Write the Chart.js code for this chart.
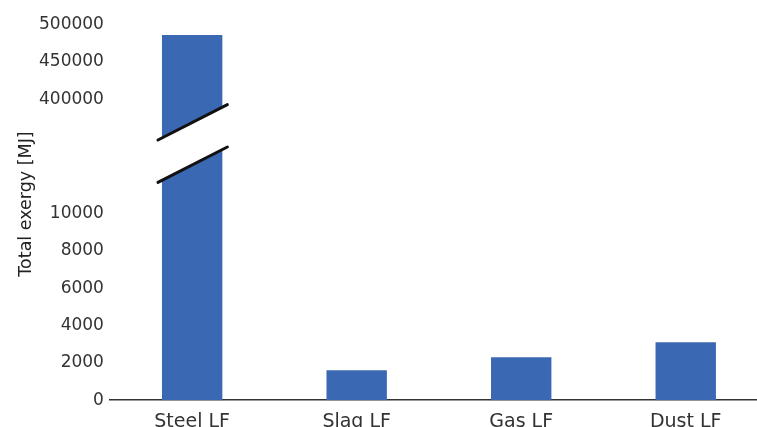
<!DOCTYPE html>
<html>
<head>
<meta charset="utf-8">
<script src="https://cdn.jsdelivr.net/npm/chart.js@4.4.1/dist/chart.umd.min.js"></script>
<style>
  html, body { margin: 0; padding: 0; background: #fff; overflow: hidden; }
  #wrap { position: relative; width: 770px; height: 440px; }
</style>
</head>
<body>
<div id="wrap"><canvas id="chart"></canvas></div>
<script>
// data
const categories = ['Steel LF', 'Slag LF', 'Gas LF', 'Dust LF'];
const exergyMJ = [486000, 1600, 2300, 3100];
const yTicks = [0, 2000, 4000, 6000, 8000, 10000, 400000, 450000, 500000];

// broken axis: value ranges and the share of the axis height each one gets
const SEGMENTS = [
  { from: 0, to: 10000, d0: 0, d1: 0.4967 },
  { from: 10000, to: 400000, d0: 0.4967, d1: 0.8003 },
  { from: 400000, to: 500000, d0: 0.8003, d1: 1 },
];

function toDecimal(v) {
  for (const s of SEGMENTS) {
    if (v <= s.to) return s.d0 + (v - s.from) / (s.to - s.from) * (s.d1 - s.d0);
  }
  return 1;
}
function fromDecimal(d) {
  for (const s of SEGMENTS) {
    if (d <= s.d1) return s.from + (d - s.d0) / (s.d1 - s.d0) * (s.to - s.from);
  }
  return SEGMENTS[SEGMENTS.length - 1].to;
}

const Linear = Chart.LinearScale || Chart.registry.getScale('linear');
class BrokenLinear extends Linear {
  getPixelForValue(value) {
    if (value === null || value === undefined || isNaN(value)) return NaN;
    return this.getPixelForDecimal(toDecimal(value));
  }
  getValueForPixel(pixel) {
    return fromDecimal(this.getDecimalForPixel(pixel));
  }
}
BrokenLinear.id = 'brokenLinear';
Chart.register(BrokenLinear);

// white gap + two slanted strokes across the tall bar
const axisBreak = {
  id: 'axisBreak',
  afterDatasetsDraw(chart) {
    const bar = chart.getDatasetMeta(0).data[0];
    const ys = chart.scales.y;
    const ctx = chart.ctx;
    const x0 = bar.x - bar.width / 2 - 4;
    const x1 = bar.x + bar.width / 2 + 5;
    const half = (x1 - x0) * 0.255;
    const yUp = ys.getPixelForDecimal(0.7397);
    const yLo = ys.getPixelForDecimal(0.6268);
    ctx.save();
    ctx.fillStyle = '#fff';
    ctx.beginPath();
    ctx.moveTo(x0, yUp + half);
    ctx.lineTo(x1, yUp - half);
    ctx.lineTo(x1, yLo - half);
    ctx.lineTo(x0, yLo + half);
    ctx.closePath();
    ctx.fill();
    ctx.strokeStyle = '#111';
    ctx.lineWidth = 3;
    ctx.lineCap = 'round';
    [yUp, yLo].forEach(yc => {
      ctx.beginPath();
      ctx.moveTo(x0, yc + half);
      ctx.lineTo(x1, yc - half);
      ctx.stroke();
    });
    ctx.restore();
  },
};

const FONT = "'DejaVu Sans', sans-serif";

new Chart(document.getElementById('chart'), {
  type: 'bar',
  data: {
    labels: categories,
    datasets: [{
      data: exergyMJ,
      backgroundColor: '#3b68b2',
      categoryPercentage: 1,
      barPercentage: 0.367,
    }],
  },
  options: {
    responsive: true,
    maintainAspectRatio: false,
    animation: false,
    events: [],
    layout: { padding: { left: 12, right: 2, top: 24.5, bottom: -3 } },
    plugins: { legend: { display: false }, tooltip: { enabled: false } },
    scales: {
      x: {
        grid: { display: false, drawTicks: false },
        border: { display: true, color: '#333', width: 1.5 },
        ticks: { color: '#333', padding: 10, font: { family: FONT, size: 19 }, maxRotation: 0 },
      },
      y: {
        type: 'brokenLinear',
        min: 0,
        max: 500000,
        afterBuildTicks: s => { s.ticks = yTicks.map(v => ({ value: v })); },
        grid: { display: false, drawTicks: false },
        border: { display: false },
        ticks: {
          autoSkip: false,
          color: '#333',
          padding: 6,
          font: { family: FONT, size: 17 },
          callback: v => String(v),
        },
        title: {
          display: true,
          // leading spaces nudge the rotated title a little upwards, as in the original
          text: '   Total exergy [MJ]',
          color: '#222',
          font: { family: FONT, size: 17.5 },
          padding: { top: 4, bottom: -4 },
        },
      },
    },
  },
  plugins: [axisBreak],
});
</script>
</body>
</html>
